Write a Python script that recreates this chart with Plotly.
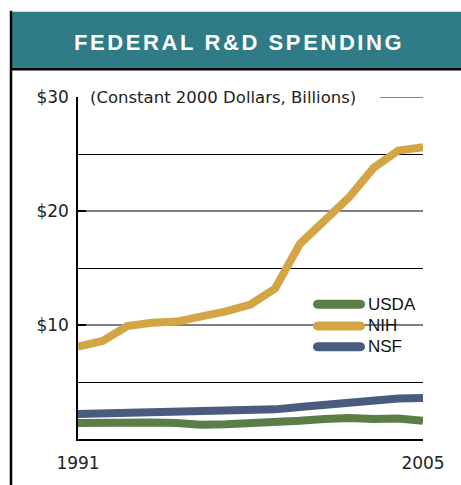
import plotly.graph_objects as go

years = list(range(1991, 2006))
nih = [8.1, 8.6, 9.9, 10.2, 10.3, 10.7, 11.2, 11.8, 13.2, 17.1, 19.1, 21.2, 23.8, 25.3, 25.6]
nsf = [2.2, 2.25, 2.2, 2.3, 2.35, 2.35, 2.4, 2.4, 2.6, 2.8, 3.0, 3.2, 3.45, 3.55, 3.6]
usda = [1.4, 1.45, 1.4, 1.45, 1.4, 1.25, 1.3, 1.35, 1.5, 1.6, 1.75, 1.85, 1.75, 1.8, 1.6]

series_names = ["USDA", "NIH", "NSF"]
series_values = [usda, nih, nsf]
series_colors = ["#5B7E46", "#D4A545", "#4A5B80"]

y_tickvals = [10, 20, 30]
y_ticktext = ["$10", "$20", "$30"]
x_tickvals = [1991, 2005]
x_ticktext = ["1991", "2005"]

title_text = "FEDERAL R&amp;D SPENDING"
subtitle_text = "(Constant 2000 Dollars, Billions)"

W, H = 461, 485
L, R, T, B = 78, 38, 97, 43
PW, PH = W - L - R, H - T - B


def px(x):
    return (x - L) / PW


def py(y):
    return (H - B - y) / PH


fig = go.Figure()
for name, vals, col in zip(series_names, series_values, series_colors):
    fig.add_trace(go.Scatter(x=years, y=vals, mode="lines", name=name,
                             line=dict(color=col, width=8), showlegend=False))

shapes = []
# frame: header band, left rule, bottom rule of header
shapes.append(dict(type="rect", xref="paper", yref="paper", x0=px(12), x1=px(470),
                   y0=py(69), y1=py(11), fillcolor="#2F7B86", line=dict(width=0), layer="above"))
shapes.append(dict(type="line", xref="paper", yref="paper", x0=px(12), x1=px(470),
                   y0=py(69), y1=py(69), line=dict(color="black", width=2.5), layer="above"))
shapes.append(dict(type="line", xref="paper", yref="paper", x0=px(11), x1=px(11),
                   y0=py(10), y1=py(490), line=dict(color="black", width=2.5), layer="above"))

# top gridline segment to the right of the subtitle
shapes.append(dict(type="line", xref="paper", yref="y", x0=px(380), x1=1, y0=30, y1=30,
                   line=dict(color="#808080", width=2), layer="between"))

# legend (manual, pill-shaped swatches)
leg_x0 = px(313)
leg_rows = [306, 328, 349]
shapes.append(dict(type="rect", xref="paper", yref="paper", x0=px(309), x1=px(430),
                   y0=py(362), y1=py(294), fillcolor="white", line=dict(width=0), layer="between"))
ln, h, r = 52, 4.5, 4.5
path = (f"M {r},{-h} L {ln - r},{-h} C {ln - r + 6},{-h} {ln - r + 6},{h} {ln - r},{h} "
        f"L {r},{h} C {r - 6},{h} {r - 6},{-h} {r},{-h} Z")
annotations = []
for name, col, yy in zip(series_names, series_colors, leg_rows):
    shapes.append(dict(type="path", xref="paper", yref="paper", xsizemode="pixel",
                       ysizemode="pixel", xanchor=leg_x0, yanchor=py(yy), path=path,
                       fillcolor=col, line=dict(width=0), layer="above"))
    annotations.append(dict(text=name, xref="paper", yref="paper", x=px(366), y=py(yy),
                            xanchor="left", yanchor="middle", showarrow=False,
                            font=dict(family="Liberation Sans, Arial", size=17, color="#111")))

annotations.append(dict(text=f'<span style="letter-spacing:2.6px">{title_text}</span>',
                        xref="paper", yref="paper", x=px(239), y=py(42),
                        xanchor="center", yanchor="middle", showarrow=False,
                        font=dict(family="Liberation Sans, Arial", size=22, color="white",
                                  weight="bold")))
annotations.append(dict(text=subtitle_text, xref="paper", yref="paper", x=px(89), y=py(98),
                        xanchor="left", yanchor="middle", showarrow=False,
                        borderpad=0,
                        font=dict(family="DejaVu Sans", size=16.5, color="#222")))
# white cover to hide gridline behind subtitle
shapes.append(dict(type="rect", xref="paper", yref="paper", x0=px(88), x1=px(378),
                   y0=py(105), y1=py(90), fillcolor="white", line=dict(width=0), layer="between"))

fig.update_layout(
    width=W, height=H, margin=dict(l=L, r=R, t=T, b=B),
    paper_bgcolor="white", plot_bgcolor="white",
    shapes=shapes, annotations=annotations,
    xaxis=dict(range=[1991, 2005], tickvals=x_tickvals, ticktext=x_ticktext,
               showgrid=False, zeroline=False, showline=True, linecolor="black", linewidth=2,
               ticks="", ticklabelstandoff=8,
               tickfont=dict(family="DejaVu Sans", size=17, color="#222")),
    yaxis=dict(range=[0, 30], tickvals=y_tickvals, ticktext=y_ticktext,
               showgrid=True, gridcolor="#808080", gridwidth=2, zeroline=False,
               showline=True, linecolor="black", linewidth=1.5,
               ticks="inside", ticklen=8, tickcolor="black", tickwidth=2,
               ticklabelstandoff=4,
               minor=dict(tickvals=[5, 15, 25], showgrid=True, gridcolor="black", gridwidth=1,
                          ticks=""),
               tickfont=dict(family="DejaVu Sans", size=17, color="#222")),
)

fig.write_html("out.html")
